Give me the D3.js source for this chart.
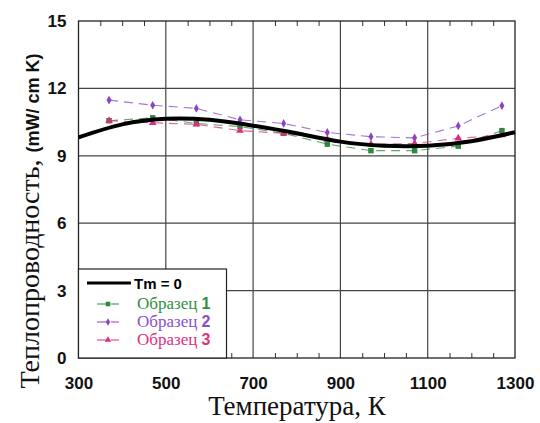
<!DOCTYPE html>
<html>
<head>
<meta charset="utf-8">
<script src="https://cdn.jsdelivr.net/npm/d3@7"></script>
<style>
  body { margin: 0; background: #fff; }
  svg { display: block; }
  .serif { font-family: "Liberation Serif", "Times New Roman", serif; }
  .sans { font-family: "Liberation Sans", Arial, sans-serif; font-weight: bold; }
</style>
</head>
<body>
<div id="chart"></div>
<script>
const width = 540;
const height = 423;
const margin = { top: 21, right: 25, bottom: 65, left: 78.5 };

// data
const tmTemps = [300, 400, 500, 600, 700, 800, 900, 1000, 1100, 1200, 1300];
const tmValues = [9.82, 10.4, 10.65, 10.6, 10.34, 10.0, 9.63, 9.45, 9.45, 9.65, 10.05];

const sampleTemps = [370, 470, 570, 670, 770, 870, 970, 1070, 1170, 1270];
const sample1 = [10.56, 10.69, 10.44, 10.3, 10.0, 9.52, 9.23, 9.23, 9.43, 10.12];
const sample2 = [11.48, 11.25, 11.11, 10.6, 10.44, 10.04, 9.85, 9.8, 10.33, 11.23];
const sample3 = [10.56, 10.47, 10.4, 10.12, 10.0, 9.73, 9.51, 9.55, 9.78, 9.92];

const xTicks = [300, 500, 700, 900, 1100, 1300];
const yTicks = [0, 3, 6, 9, 12, 15];

const series = [
  { name: "Образец", num: "1", values: sample1, color: "#2b8a3e", text: "#2f8f45", shape: d3.symbolSquare, size: 30 },
  { name: "Образец", num: "2", values: sample2, color: "#8a45c4", text: "#8a4fcf", shape: d3.symbolDiamond, size: 22 },
  { name: "Образец", num: "3", values: sample3, color: "#d8307e", text: "#e0307f", shape: d3.symbolTriangle, size: 26 }
];

const svg = d3.select("#chart")
  .append("svg")
  .attr("width", width)
  .attr("height", height);

const x = d3.scaleLinear().domain([300, 1300]).range([margin.left, width - margin.right]);
const y = d3.scaleLinear().domain([0, 15]).range([height - margin.bottom, margin.top]);

// grid
svg.append("g")
  .selectAll("line")
  .data(xTicks.slice(1, -1))
  .enter().append("line")
  .attr("x1", d => x(d)).attr("x2", d => x(d))
  .attr("y1", y(0)).attr("y2", y(15))
  .attr("stroke", "#444").attr("stroke-width", 1.2);

svg.append("g")
  .selectAll("line")
  .data(yTicks.slice(1, -1))
  .enter().append("line")
  .attr("x1", x(300)).attr("x2", x(1300))
  .attr("y1", d => y(d)).attr("y2", d => y(d))
  .attr("stroke", "#444").attr("stroke-width", 1.2);

// minor ticks on top and bottom, pointing inward
const minor = d3.range(350, 1300, 50).filter(d => d % 200 !== 100);
svg.append("g")
  .call(d3.axisTop(x).tickValues(minor).tickSize(-5).tickFormat(""))
  .attr("transform", `translate(0,${y(15)})`)
  .call(g => g.select(".domain").remove())
  .selectAll("line").attr("stroke", "#333");
svg.append("g")
  .call(d3.axisBottom(x).tickValues(minor).tickSize(-5).tickFormat(""))
  .attr("transform", `translate(0,${y(0)})`)
  .call(g => g.select(".domain").remove())
  .selectAll("line").attr("stroke", "#333");

// frame
svg.append("rect")
  .attr("x", x(300)).attr("y", y(15))
  .attr("width", x(1300) - x(300)).attr("height", y(0) - y(15))
  .attr("fill", "none").attr("stroke", "#222").attr("stroke-width", 1.3);

// tick labels
svg.append("g")
  .attr("transform", `translate(0,${y(0) + 23})`)
  .call(d3.axisBottom(x).tickValues(xTicks).tickFormat(d3.format("d")).tickSize(0).tickPadding(0))
  .call(g => g.select(".domain").remove())
  .selectAll("text")
  .attr("class", "sans")
  .attr("font-size", 17)
  .attr("fill", "#111")
  .attr("dy", "0.45em");

svg.append("g")
  .attr("transform", `translate(${x(300) - 12},0)`)
  .call(d3.axisLeft(y).tickValues(yTicks).tickSize(0).tickPadding(0))
  .call(g => g.select(".domain").remove())
  .selectAll("text")
  .attr("class", "sans")
  .attr("font-size", 17)
  .attr("fill", "#111");

// sample series
const line = d3.line().x(d => x(d[0])).y(d => y(d[1]));

series.forEach(s => {
  const pts = sampleTemps.map((t, i) => [t, s.values[i]]);
  svg.append("path")
    .datum(pts)
    .attr("d", line)
    .attr("fill", "none")
    .attr("stroke", s.color)
    .attr("stroke-opacity", 0.75)
    .attr("stroke-width", 1.1)
    .attr("stroke-dasharray", "9,6");
  svg.append("g")
    .selectAll("path")
    .data(pts)
    .enter().append("path")
    .attr("d", d3.symbol().type(s.shape).size(s.size))
    .attr("transform", d => `translate(${x(d[0])},${y(d[1])})`)
    .attr("fill", s.color);
});

// Tm = 0 curve
svg.append("path")
  .datum(tmTemps.map((t, i) => [t, tmValues[i]]))
  .attr("d", d3.line().x(d => x(d[0])).y(d => y(d[1])).curve(d3.curveNatural))
  .attr("fill", "none")
  .attr("stroke", "#000")
  .attr("stroke-width", 4);

// legend
const lg = svg.append("g");
lg.append("rect")
  .attr("x", x(300)).attr("y", 269)
  .attr("width", 148).attr("height", y(0) - 269)
  .attr("fill", "#fff").attr("stroke", "#222").attr("stroke-width", 1.2);
lg.append("line")
  .attr("x1", 87).attr("x2", 131).attr("y1", 283).attr("y2", 283)
  .attr("stroke", "#000").attr("stroke-width", 3);
lg.append("text")
  .attr("class", "sans")
  .attr("x", 134).attr("y", 289)
  .attr("font-size", 15)
  .text("Tm = 0");

series.forEach((s, i) => {
  const yy = 304 + i * 18;
  lg.append("line")
    .attr("x1", 97).attr("x2", 133).attr("y1", yy).attr("y2", yy)
    .attr("stroke", s.color).attr("stroke-width", 1.2)
    .attr("stroke-dasharray", "10,4,8,20");
  lg.append("path")
    .attr("d", d3.symbol().type(s.shape).size(s.size * 0.7))
    .attr("transform", `translate(108,${yy})`)
    .attr("fill", s.color);
  const t = lg.append("text")
    .attr("x", 137).attr("y", yy + 5)
    .attr("fill", s.text);
  t.append("tspan")
    .attr("class", "serif")
    .attr("font-size", 17)
    .text(s.name + " ");
  t.append("tspan")
    .attr("class", "sans")
    .attr("font-size", 16)
    .text(s.num);
});

// axis titles
svg.append("text")
  .attr("class", "serif")
  .attr("x", 297).attr("y", 415)
  .attr("text-anchor", "middle")
  .attr("font-size", 27)
  .attr("fill", "#111")
  .text("Температура, К");

const yl = svg.append("text")
  .attr("transform", "translate(39,221) rotate(-90)")
  .attr("text-anchor", "middle")
  .attr("fill", "#111");
yl.append("tspan")
  .attr("class", "serif")
  .attr("font-size", 28)
  .text("Теплопроводность, ");
yl.append("tspan")
  .attr("class", "sans")
  .attr("font-size", 18)
  .text("(mW/ cm K)");
</script>
</body>
</html>
